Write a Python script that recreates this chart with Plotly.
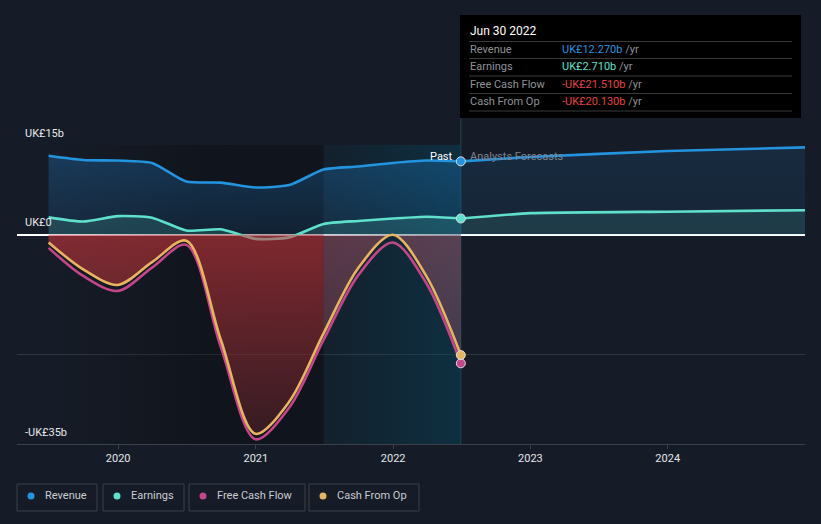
import plotly.graph_objects as go

# ---------------- data ----------------
past_dates = ["2019-06-30", "2019-09-30", "2019-12-31", "2020-03-31", "2020-06-30",
              "2020-09-30", "2020-12-31", "2021-03-31", "2021-06-30", "2021-09-30",
              "2021-12-31", "2022-03-31", "2022-06-30"]
revenue = [13.2, 12.5, 12.4, 12.0, 8.9, 8.7, 7.9, 8.3, 10.9, 11.4, 12.0, 12.4, 12.27]
earnings = [2.9, 2.2, 3.1, 2.85, 0.7, 0.9, -0.7, -0.45, 1.8, 2.3, 2.7, 3.0, 2.71]
free_cash_flow = [-2.2, -6.9, -9.4, -5.5, -1.7, -18.8, -34.2, -28.9, -17.6, -6.8, -1.3, -8.2, -21.51]
cash_from_op = [-1.3, -5.8, -8.4, -4.6, -1.0, -17.6, -33.3, -27.9, -16.5, -5.6, 0.0, -7.0, -20.13]

forecast_dates = ["2022-12-31", "2023-12-31", "2024-12-31"]
revenue_fc = [13.0, 14.0, 14.6]
earnings_fc = [3.6, 3.85, 4.1]

year_ticks = ["2020-01-01", "2021-01-01", "2022-01-01", "2023-01-01", "2024-01-01"]
year_labels = ["2020", "2021", "2022", "2023", "2024"]
y_labels = [(15, "UK£15b"), (0, "UK£0"), (-35, "-UK£35b")]
tooltip_title = "Jun 30 2022"
series_names = ["Revenue", "Earnings", "Free Cash Flow", "Cash From Op"]

# ---------------- style ----------------
BG = "#161c27"
C_REV = "#2394df"
C_EARN = "#5ee0cb"
C_FCF = "#c4458c"
C_CFO = "#e8b45e"
C_NEG = "#e5403f"
FONT = "Roboto"
Y_MIN, Y_MAX = -35, 15

# pixel -> paper helpers (plot area: x 17..805, y 145..444)
L, R, T, B = 17, 805, 145, 444
def PX(x):
    return (x - L) / (R - L)
def PY(y):
    return (B - y) / (B - T)

fig = go.Figure()

# dark band over older past
split = 8  # index of 2021-06-30 (start of last-year highlight)
fig.add_trace(go.Scatter(
    x=[past_dates[0], past_dates[split], past_dates[split], past_dates[0], past_dates[0]],
    y=[Y_MAX, Y_MAX, Y_MIN, Y_MIN, Y_MAX], mode="lines", line=dict(width=0),
    fill="toself",
    fillgradient=dict(type="horizontal",
                      colorscale=[[0, "rgba(0,0,0,0)"], [0.55, "rgba(0,0,0,0.26)"], [1, "rgba(0,0,0,0.28)"]]),
    hoverinfo="skip", showlegend=False))

# last-year highlight
fig.add_trace(go.Scatter(
    x=[past_dates[split], past_dates[-1], past_dates[-1], past_dates[split], past_dates[split]],
    y=[Y_MAX, Y_MAX, Y_MIN, Y_MIN, Y_MAX], mode="lines", line=dict(width=0),
    fill="toself",
    fillgradient=dict(type="horizontal",
                      colorscale=[[0, "rgba(0,70,95,0.10)"], [1, "rgba(0,75,100,0.42)"]]),
    hoverinfo="skip", showlegend=False))

# revenue
fig.add_trace(go.Scatter(
    x=past_dates, y=revenue, mode="lines", line=dict(color=C_REV, width=2.6, shape="spline", smoothing=0.6),
    fill="tozeroy",
    fillgradient=dict(type="vertical", start=0, stop=15,
                      colorscale=[[0, "rgba(33,150,243,0.10)"], [1, "rgba(33,150,243,0.27)"]]),
    hoverinfo="skip", showlegend=False))
fig.add_trace(go.Scatter(
    x=[past_dates[-1]] + forecast_dates, y=[revenue[-1]] + revenue_fc, mode="lines",
    line=dict(color=C_REV, width=2.6, shape="spline", smoothing=0.4),
    fill="tozeroy",
    fillgradient=dict(type="vertical", start=0, stop=15,
                      colorscale=[[0, "rgba(33,150,243,0.07)"], [1, "rgba(33,150,243,0.12)"]]),
    hoverinfo="skip", showlegend=False))

# earnings
fig.add_trace(go.Scatter(
    x=past_dates, y=earnings, mode="lines", line=dict(color=C_EARN, width=2.6, shape="spline", smoothing=0.6),
    fill="tozeroy", fillcolor="rgba(94,224,203,0.16)",
    hoverinfo="skip", showlegend=False))
fig.add_trace(go.Scatter(
    x=[past_dates[-1]] + forecast_dates, y=[earnings[-1]] + earnings_fc, mode="lines",
    line=dict(color=C_EARN, width=2.6, shape="spline", smoothing=0.4),
    fill="tozeroy", fillcolor="rgba(94,224,203,0.12)",
    hoverinfo="skip", showlegend=False))

SM = 0.9
# negative cash flow fill (older part, red; last year, mauve)
fig.add_trace(go.Scatter(
    x=past_dates[:split + 1], y=cash_from_op[:split + 1], mode="lines",
    line=dict(width=0, shape="spline", smoothing=SM),
    fill="tozeroy",
    fillgradient=dict(type="vertical", start=-35, stop=0,
                      colorscale=[[0, "rgba(210,55,60,0.18)"], [1, "rgba(210,55,60,0.57)"]]),
    hoverinfo="skip", showlegend=False))
fig.add_trace(go.Scatter(
    x=past_dates[split:], y=cash_from_op[split:], mode="lines",
    line=dict(width=0, shape="spline", smoothing=SM),
    fill="tozeroy",
    fillgradient=dict(type="vertical", start=-35, stop=0,
                      colorscale=[[0, "rgba(190,90,110,0.20)"], [1, "rgba(190,90,110,0.42)"]]),
    hoverinfo="skip", showlegend=False))

# cash flow lines
fig.add_trace(go.Scatter(
    x=past_dates, y=free_cash_flow, mode="lines",
    line=dict(color=C_FCF, width=2.6, shape="spline", smoothing=SM),
    hoverinfo="skip", showlegend=False))
fig.add_trace(go.Scatter(
    x=past_dates, y=cash_from_op, mode="lines",
    line=dict(color=C_CFO, width=2.6, shape="spline", smoothing=SM),
    hoverinfo="skip", showlegend=False))

# end-of-past markers
for vals, col in [(revenue, C_REV), (earnings, C_EARN), (free_cash_flow, C_FCF), (cash_from_op, C_CFO)]:
    fig.add_trace(go.Scatter(
        x=[past_dates[-1]], y=[vals[-1]], mode="markers",
        marker=dict(color=col, size=9, line=dict(color="#d8dde3", width=1)),
        hoverinfo="skip", showlegend=False))

shapes = []
annotations = []

# vertical "now" line
shapes.append(dict(type="line", xref="x", yref="paper", x0=past_dates[-1], x1=past_dates[-1],
                   y0=0, y1=PY(15), line=dict(color="#26404c", width=1), layer="below"))

# y labels
for val, txt in y_labels:
    annotations.append(dict(xref="paper", yref="y", x=PX(23), y=val, yshift=12, text=txt,
                            xanchor="left", yanchor="middle", showarrow=False,
                            font=dict(family=FONT, size=11, color="#e6e8eb")))

# Past / forecast labels
annotations.append(dict(xref="x", yref="paper", x=past_dates[-1], y=PY(156), xshift=-6, text="Past",
                        xanchor="right", yanchor="middle", showarrow=False,
                        font=dict(family=FONT, size=11, color="#ffffff")))
annotations.append(dict(xref="x", yref="paper", x=past_dates[-1], y=PY(156), xshift=7,
                        text="Analysts Forecasts", xanchor="left", yanchor="middle", showarrow=False,
                        font=dict(family=FONT, size=11, color="#7d838c")))

# tooltip box
shapes.append(dict(type="rect", xref="paper", yref="paper", x0=PX(460), x1=PX(801), y0=PY(118), y1=PY(15),
                   fillcolor="#000000", line=dict(width=0), layer="above"))
for sy in [41.5, 58.5, 76, 93.5, 111]:
    shapes.append(dict(type="line", xref="paper", yref="paper", x0=PX(469), x1=PX(792), y0=PY(sy), y1=PY(sy),
                       line=dict(color="#3a3a3d", width=1), layer="above"))
annotations.append(dict(xref="paper", yref="paper", x=PX(468), y=PY(31), text=tooltip_title,
                        xanchor="left", yanchor="middle", showarrow=False,
                        font=dict(family=FONT, size=12, color="#ffffff")))

def fmt(v):
    return ("-" if v < 0 else "") + f"UK£{abs(v):.3f}b"

rows = [(series_names[0], revenue[-1], C_REV), (series_names[1], earnings[-1], C_EARN),
        (series_names[2], free_cash_flow[-1], C_NEG), (series_names[3], cash_from_op[-1], C_NEG)]
for i, (name, v, col) in enumerate(rows):
    yy = [49.5, 67, 84.5, 101.5][i]
    annotations.append(dict(xref="paper", yref="paper", x=PX(468), y=PY(yy), text=name,
                            xanchor="left", yanchor="middle", showarrow=False,
                            font=dict(family=FONT, size=11, color="#8f9296")))
    annotations.append(dict(xref="paper", yref="paper", x=PX(560), y=PY(yy),
                            text=f"<span style='color:{col}'>{fmt(v)}</span> /yr",
                            xanchor="left", yanchor="middle", showarrow=False,
                            font=dict(family=FONT, size=11, color="#8f9296")))

# custom legend
legend_items = [(series_names[0], C_REV, 17, 97), (series_names[1], C_EARN, 103, 184),
                (series_names[2], C_FCF, 189, 305), (series_names[3], C_CFO, 309, 419)]
for name, col, x0, x1 in legend_items:
    shapes.append(dict(type="rect", xref="paper", yref="paper", x0=PX(x0), x1=PX(x1), y0=PY(511), y1=PY(484),
                       line=dict(color="#3a3f49", width=1), fillcolor="rgba(0,0,0,0)"))
    shapes.append(dict(type="circle", xref="paper", yref="paper", x0=PX(x0 + 10.5), x1=PX(x0 + 17.5),
                       y0=PY(499.5), y1=PY(492.5), line=dict(width=0), fillcolor=col))
    annotations.append(dict(xref="paper", yref="paper", x=PX(x0 + 26), y=PY(496), text=name,
                            xanchor="left", yanchor="middle", showarrow=False,
                            font=dict(family=FONT, size=11, color="#c9ccd1")))

fig.update_layout(
    width=821, height=524, autosize=False,
    margin=dict(l=L, r=821 - R, t=T, b=524 - B, pad=0),
    paper_bgcolor=BG, plot_bgcolor=BG,
    showlegend=False,
    shapes=shapes, annotations=annotations,
    xaxis=dict(type="date", range=["2019-04-07", "2024-12-31"], tickvals=year_ticks, ticktext=year_labels,
               ticks="outside", ticklen=4, tickcolor="#3a3f49", showline=True, linecolor="#3a3f49",
               linewidth=1, showgrid=False, zeroline=False,
               tickfont=dict(family=FONT, size=11, color="#e3e6ea"), fixedrange=True),
    yaxis=dict(range=[Y_MIN, Y_MAX], tickvals=[-20, 15], showticklabels=False, showgrid=True,
               gridcolor="#30353e", gridwidth=1, zeroline=True, zerolinecolor="#ffffff", zerolinewidth=1.5,
               showline=False, ticks="", fixedrange=True),
    font=dict(family=FONT),
)

fig.write_html("out.html")
